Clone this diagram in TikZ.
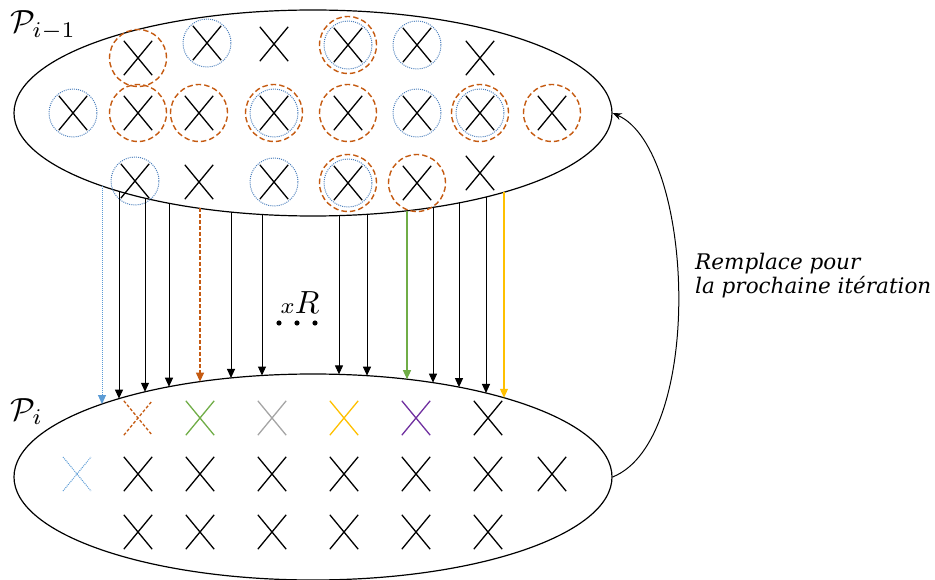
\documentclass[tikz,border=0pt]{standalone}
\usepackage{fontspec}
\setmainfont{DejaVu Serif}
\usetikzlibrary{arrows.meta,shapes.geometric,shapes.misc}
\definecolor{cbrown}{HTML}{C55A11}
\definecolor{cblue}{HTML}{4F81BD}
\definecolor{lblue}{HTML}{5B9BD5}
\definecolor{cgreen}{HTML}{70AD47}
\definecolor{cgray}{HTML}{A5A5A5}
\definecolor{cyellow}{HTML}{FFC000}
\definecolor{cpurple}{HTML}{7030A0}
\begin{document}
\begin{tikzpicture}[x=1pt,y=-1pt,
  pop/.style={ellipse,draw,line width=1.2pt,minimum width=598pt,minimum height=206pt,inner sep=0pt},
  xm/.style={cross out,draw,line width=1.3pt,minimum width=27pt,minimum height=33pt,inner sep=0pt},
  brc/.style={circle,draw=cbrown,line width=1.4pt,dash pattern=on 5.5pt off 3pt,minimum size=57pt,inner sep=0pt},
  bluc/.style={circle,draw=cblue,line width=1pt,dash pattern=on 1pt off 1.1pt,minimum size=48pt,inner sep=0pt},
  tipa/.style={-{Triangle[length=9pt,width=8pt]}},
  arrblk/.style={tipa,line width=1pt,black},
  arrblu/.style={tipa,line width=1pt,lblue,dash pattern=on 1pt off 1pt},
  arrbrn/.style={tipa,line width=1.1pt,cbrown,dash pattern=on 4pt off 2pt},
  arrgrn/.style={tipa,line width=1.1pt,cgreen},
  arryel/.style={tipa,line width=1.1pt,cyellow},
  lbl/.style={inner sep=0pt},
  txt/.style={font=\itshape\fontsize{21.5}{24}\selectfont,align=left,inner sep=0pt}
]
\useasboundingbox (0,0) rectangle (935,580);

% populations
\node[pop] (top) at (313,113) {};
\node[pop] (bot) at (313,477) {};

% labels
\node[lbl,anchor=base west] (lp1) at (10,33) {\scalebox{3.2}{$\mathcal{P}_{i-1}$}};
\node[lbl,anchor=base west] (lp2) at (10,420) {\scalebox{3.2}{$\mathcal{P}_{i}$}};

% top crosses
\foreach \x/\y [count=\i] in {138/58,207/43,274/44,348/45,417/45,480/58,
  73/113,138/113,199/113,274/113,348/113,417/113,480/113,552/113,
  135/181,199/182,274/182,348/183,417/183,480/173}
  {\node[xm] (t\i) at (\x,\y) {};}
\foreach \n in {1,4,8,9,10,11,13,14,18,19} {\node[brc] (c\n) at (t\n) {};}
\foreach \n in {2,4,5,7,10,12,13,15,17,18} {\node[bluc] (d\n) at (t\n) {};}

% bottom crosses
\node[xm,draw=cbrown,dash pattern=on 3pt off 2pt] (b1) at (138,418) {};
\node[xm,draw=cgreen] (b2) at (200,418) {};
\node[xm,draw=cgray] (b3) at (272,418) {};
\node[xm,draw=cyellow] (b4) at (344,418) {};
\node[xm,draw=cpurple] (b5) at (416,418) {};
\node[xm] (b6) at (488,418) {};
\node[xm,draw=lblue,line width=1pt,dash pattern=on 1pt off 1pt] (b7) at (77,474) {};
\foreach \x [count=\i from 8] in {138,200,272,344,416,488,552}
  {\node[xm] (b\i) at (\x,474) {};}
\foreach \x [count=\i from 15] in {138,200,272,344,416,488}
  {\node[xm] (b\i) at (\x,532) {};}

% arrows between populations
\foreach \x/\s in {102/arrblu,119/arrblk,145/arrblk,169/arrblk,200/arrbrn,231/arrblk,262/arrblk,
  339/arrblk,367/arrblk,407/arrgrn,433/arrblk,459/arrblk,486/arrblk,504/arryel}
  {\coordinate (s\x) at (\x,{113+103*sqrt(1-((\x-313)/299)^2)});
   \coordinate (e\x) at (\x,{477-103*sqrt(1-((\x-313)/299)^2)});
   \draw[\s] (s\x) -- (e\x);}

% xR and dots
\node[lbl,anchor=base] (xr) at (300,313) {\scalebox{3.2}{${\scriptstyle x}R$}};
\fill (279,323) circle (2.6);
\fill (297,323) circle (2.6);
\fill (315,323) circle (2.6);

% return arrow
\draw[line width=1pt,-{Stealth[length=9pt,width=7pt]}] (bot.east) .. controls (705,440) and (695,150) .. (top.east);
\node[txt,anchor=base west] (lab) at (695,294) {Remplace pour\\la prochaine itération};
\end{tikzpicture}
\end{document}
